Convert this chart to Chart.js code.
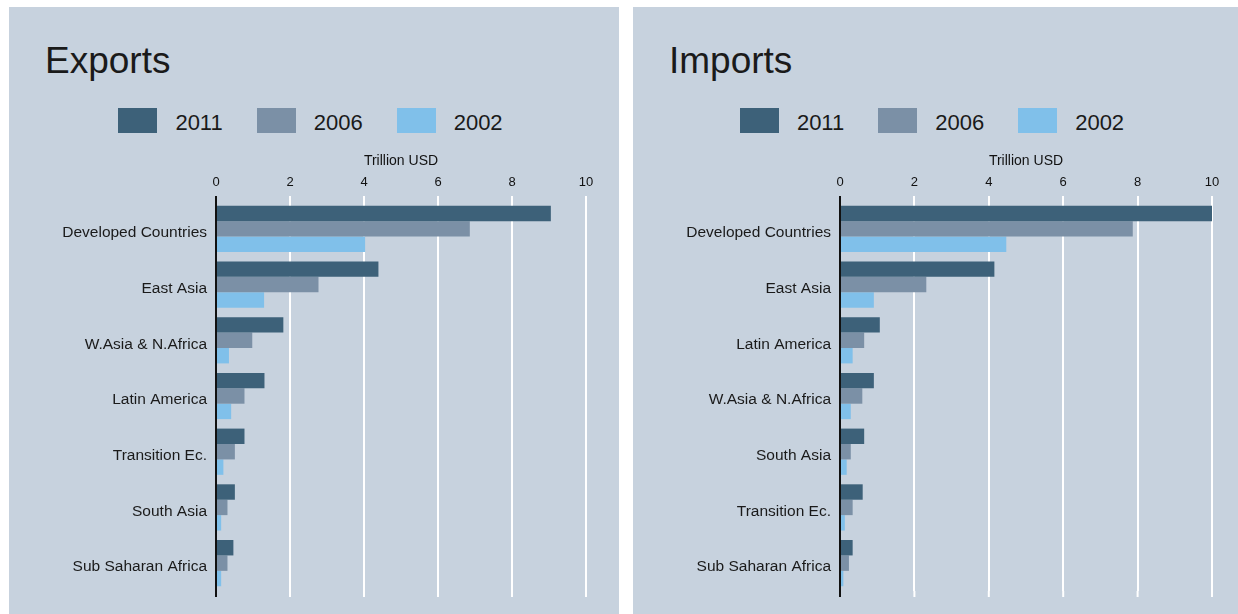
<!DOCTYPE html>
<html>
<head>
<meta charset="utf-8">
<script src="https://cdn.jsdelivr.net/npm/chart.js@4"></script>
<style>
  body { margin: 0; background: #fff; font-family: "Liberation Sans", Arial, Helvetica, sans-serif; }
  .panel { position: absolute; top: 7px; height: 607px; background: #c7d2de; }
  .panel canvas { position: absolute; left: 0; top: 0; }
  .title { position: absolute; left: 36px; top: 35px; font-size: 37px; line-height: 37px; color: #1a1a1a; }
  .legend { position: absolute; left: 0; right: 7px; top: 101px; display: flex; justify-content: center; }
  .legend .item { display: flex; align-items: center; margin: 0 17px; }
  .legend .box { width: 39px; height: 25px; margin-right: 18px; }
  .legend .lbl { font-size: 22px; color: #1a1a1a; line-height: 25px; position: relative; top: 2px; }
</style>
</head>
<body>
<div class="panel" id="p1" style="left:9px; width:610px;">
  <div class="title">Exports</div>
  <div class="legend" id="leg1"></div>
  <canvas id="exportsChart" width="610" height="607"></canvas>
</div>
<div class="panel" id="p2" style="left:633px; width:605px;">
  <div class="title">Imports</div>
  <div class="legend" id="leg2"></div>
  <canvas id="importsChart" width="605" height="607"></canvas>
</div>
<script>
// values in trillion USD
let years = ['2011', '2006', '2002'];
let colors = ['#3d6179', '#7b90a6', '#80c0ea'];

let exportCats = ['Developed Countries', 'East Asia', 'W.Asia & N.Africa', 'Latin America',
                  'Transition Ec.', 'South Asia', 'Sub Saharan Africa'];
let exp2011 = [9.05, 4.39, 1.82, 1.31, 0.77, 0.51, 0.47];
let exp2006 = [6.86, 2.77, 0.98, 0.77, 0.51, 0.31, 0.31];
let exp2002 = [4.03, 1.30, 0.35, 0.41, 0.20, 0.14, 0.14];

let importCats = ['Developed Countries', 'East Asia', 'Latin America', 'W.Asia & N.Africa',
                  'South Asia', 'Transition Ec.', 'Sub Saharan Africa'];
let imp2011 = [10.02, 4.15, 1.07, 0.91, 0.65, 0.61, 0.34];
let imp2006 = [7.87, 2.32, 0.65, 0.60, 0.29, 0.34, 0.24];
let imp2002 = [4.47, 0.91, 0.34, 0.29, 0.18, 0.13, 0.09];

let xTicks = [0, 2, 4, 6, 8, 10];

Chart.defaults.font.family = '"Liberation Sans", Arial, Helvetica, sans-serif';
Chart.defaults.color = '#1a1a1a';

function buildLegend(id) {
    let el = document.getElementById(id);
    years.forEach(function(y, i) {
        let item = document.createElement('div');
        item.className = 'item';
        item.innerHTML = '<span class="box" style="background:' + colors[i] + '"></span><span class="lbl">' + y + '</span>';
        el.appendChild(item);
    });
}

// zero axis line on top of the bars, and gridlines running a bit past the bottom
let axisLines = {
    id: 'axisLines',
    afterDatasetsDraw: function(chart) {
        let ctx = chart.ctx;
        let x = chart.scales.x;
        let area = chart.chartArea;
        ctx.save();
        ctx.lineWidth = 2;
        ctx.strokeStyle = '#ffffff';
        xTicks.forEach(function(t) {
            let px = x.getPixelForValue(t);
            ctx.beginPath();
            ctx.moveTo(px, area.bottom);
            ctx.lineTo(px, area.bottom + 6);
            ctx.stroke();
        });
        let x0 = x.getPixelForValue(0);
        ctx.strokeStyle = '#111111';
        ctx.beginPath();
        ctx.moveTo(x0, area.top - 5);
        ctx.lineTo(x0, area.bottom + 6);
        ctx.stroke();
        ctx.restore();
    }
};

function makeChart(canvasId, cats, d1, d2, d3, padRight) {
    let ctx = document.getElementById(canvasId).getContext('2d');
    return new Chart(ctx, {
        type: 'bar',
        data: {
            labels: cats,
            datasets: [
                { label: years[0], data: d1, backgroundColor: colors[0] },
                { label: years[1], data: d2, backgroundColor: colors[1] },
                { label: years[2], data: d3, backgroundColor: colors[2] }
            ]
        },
        options: {
            indexAxis: 'y',
            responsive: false,
            animation: false,
            layout: { padding: { left: 0, top: 0, right: padRight, bottom: 23 } },
            datasets: {
                bar: { categoryPercentage: 0.83, barPercentage: 1.0, borderWidth: 0 }
            },
            plugins: {
                legend: { display: false },
                tooltip: { enabled: false }
            },
            scales: {
                x: {
                    position: 'top',
                    min: 0,
                    max: 10,
                    afterFit: function(scale) { scale.height = 194; },
                    afterBuildTicks: function(scale) {
                        scale.ticks = xTicks.map(function(v) { return { value: v }; });
                    },
                    ticks: { font: { size: 13 }, padding: 6, color: '#111' },
                    grid: { color: '#ffffff', lineWidth: 2, tickLength: 5, tickColor: '#ffffff' },
                    border: { display: false },
                    title: {
                        display: true,
                        text: 'Trillion USD',
                        font: { size: 14 },
                        color: '#111',
                        padding: { top: 146, bottom: 0 }
                    }
                },
                y: {
                    afterFit: function(scale) { scale.width = 207; },
                    ticks: { font: { size: 15.5 }, padding: 9, labelOffset: 4, color: '#1a1a1a' },
                    grid: { display: false, drawTicks: false },
                    border: { display: false }
                }
            }
        },
        plugins: [axisLines]
    });
}

buildLegend('leg1');
buildLegend('leg2');
let chart1 = makeChart('exportsChart', exportCats, exp2011, exp2006, exp2002, 33);
let chart2 = makeChart('importsChart', importCats, imp2011, imp2006, imp2002, 26);
</script>
</body>
</html>
